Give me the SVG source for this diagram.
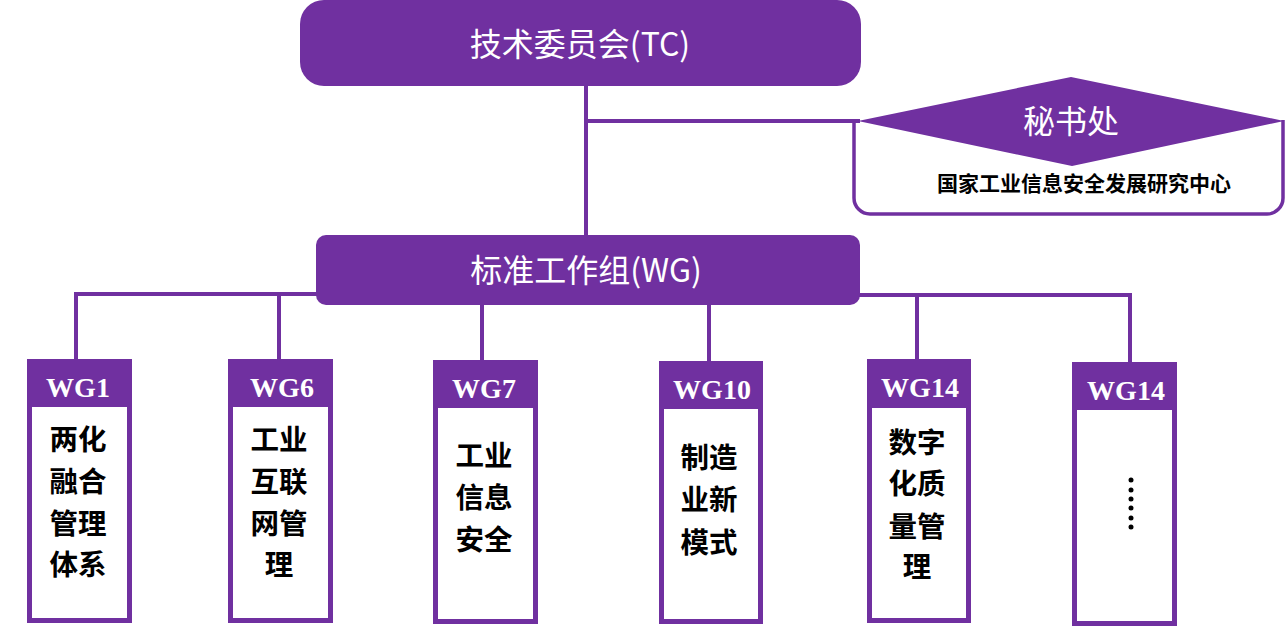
<svg xmlns="http://www.w3.org/2000/svg" width="1287" height="626" viewBox="0 0 1287 626">
<style>
.p{fill:#7030A0}
.w{fill:#ffffff}
.ln{stroke:#7030A0;stroke-width:4;fill:none;stroke-linecap:butt}
.t{font-family:"Noto Sans CJK SC","Noto Sans",sans-serif;font-size:32px;fill:#ffffff;text-anchor:middle}
.hd{font-family:"Liberation Serif","Times New Roman",serif;font-weight:bold;font-size:28px;fill:#ffffff;text-anchor:middle}
.bd{font-family:"Noto Sans CJK SC",sans-serif;font-weight:bold;font-size:28.5px;fill:#000000;text-anchor:middle}
.sm{font-family:"Noto Sans CJK SC",sans-serif;font-weight:bold;font-size:21px;fill:#000000;text-anchor:middle}
</style>
<rect width="1287" height="626" fill="#ffffff"/>
<g id="connectors">
<line class="ln" x1="586" y1="84" x2="586" y2="237"/>
<line class="ln" x1="584" y1="121" x2="860" y2="121"/>
<line class="ln" x1="74" y1="294" x2="318" y2="294"/>
<line class="ln" x1="858" y1="295" x2="1132" y2="295"/>
<line class="ln" x1="76" y1="292" x2="76" y2="361"/>
<line class="ln" x1="279" y1="292" x2="279" y2="361"/>
<line class="ln" x1="482" y1="303" x2="482" y2="362"/>
<line class="ln" x1="709" y1="303" x2="709" y2="363"/>
<line class="ln" x1="917" y1="293" x2="917" y2="361"/>
<line class="ln" x1="1130" y1="293" x2="1130" y2="364"/>
</g>
<g id="tc">
<rect class="p" x="300" y="0" width="561" height="86" rx="24"/>
<text class="t" x="580" y="56">技术委员会(TC)</text>
</g>
<g id="secretariat">
<path d="M854,120 V198 a16,16 0 0 0 16,16 H1267 a16,16 0 0 0 16,-16 V120" fill="none" stroke="#7030A0" stroke-width="3.5"/>
<polygon class="p" points="858,121 1071,77 1284,121 1072,166"/>
<text class="t" x="1071" y="133">秘书处</text>
<text class="sm" x="1084" y="191">国家工业信息安全发展研究中心</text>
</g>
<g id="wg">
<rect class="p" x="316" y="235" width="544" height="70" rx="10"/>
<text class="t" x="586" y="282">标准工作组(WG)</text>
</g>
<g id="wg1">
<rect class="p" x="27" y="359" width="105" height="264"/>
<rect class="w" x="32" y="407" width="95" height="211"/>
<text class="hd" x="78" y="397">WG1</text>
<text class="bd" x="78" y="450">两化</text>
<text class="bd" x="78" y="492">融合</text>
<text class="bd" x="78" y="534">管理</text>
<text class="bd" x="78" y="575">体系</text>
</g>
<g id="wg6">
<rect class="p" x="228" y="359" width="105" height="264"/>
<rect class="w" x="233" y="407" width="95" height="211"/>
<text class="hd" x="282" y="397">WG6</text>
<text class="bd" x="279" y="450">工业</text>
<text class="bd" x="279" y="492">互联</text>
<text class="bd" x="279" y="534">网管</text>
<text class="bd" x="279" y="575">理</text>
</g>
<g id="wg7">
<rect class="p" x="433" y="360" width="105" height="264"/>
<rect class="w" x="438" y="408" width="95" height="211"/>
<text class="hd" x="484" y="398">WG7</text>
<text class="bd" x="484" y="466">工业</text>
<text class="bd" x="484" y="508">信息</text>
<text class="bd" x="484" y="550">安全</text>
</g>
<g id="wg10">
<rect class="p" x="659" y="361" width="104" height="263"/>
<rect class="w" x="664" y="409" width="94" height="210"/>
<text class="hd" x="712" y="399">WG10</text>
<text class="bd" x="709" y="468">制造</text>
<text class="bd" x="709" y="510">业新</text>
<text class="bd" x="709" y="553">模式</text>
</g>
<g id="wg14">
<rect class="p" x="867" y="359" width="104" height="264"/>
<rect class="w" x="872" y="408" width="94" height="210"/>
<text class="hd" x="920" y="397">WG14</text>
<text class="bd" x="917" y="453">数字</text>
<text class="bd" x="917" y="494">化质</text>
<text class="bd" x="917" y="537">量管</text>
<text class="bd" x="917" y="577">理</text>
</g>
<g id="wg14b">
<rect class="p" x="1072" y="362" width="105" height="264"/>
<rect class="w" x="1077" y="410" width="95" height="211"/>
<text class="hd" x="1126" y="400">WG14</text>
<g fill="#000000">
<circle cx="1131" cy="480" r="2.5"/>
<circle cx="1131" cy="490" r="2.5"/>
<circle cx="1131" cy="499" r="2.5"/>
<circle cx="1131" cy="508" r="2.5"/>
<circle cx="1131" cy="518" r="2.5"/>
<circle cx="1131" cy="527" r="2.5"/>
</g>
</g>
</svg>
